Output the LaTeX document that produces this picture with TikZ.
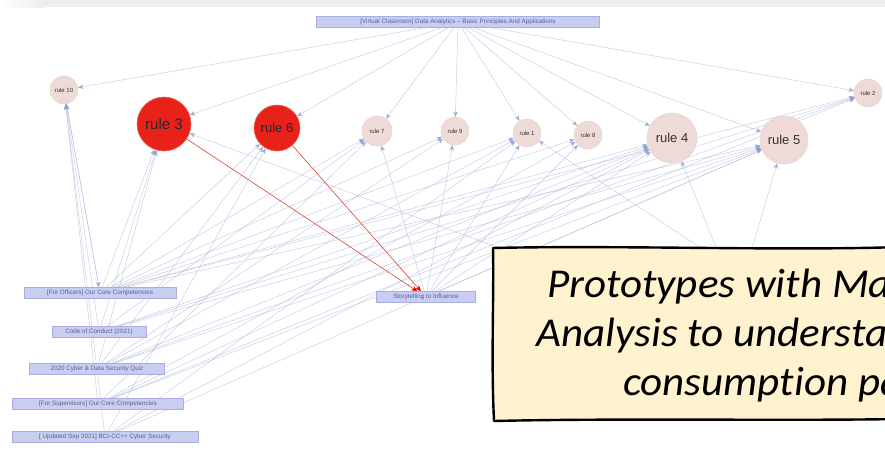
\documentclass[tikz,border=0pt]{standalone}
\usepackage{fontspec}
\setmainfont{Liberation Sans}
\newfontfamily\calloutfont[Ligatures=NoCommon]{Carlito}
\usetikzlibrary{arrows.meta,backgrounds}

\definecolor{edgec}{HTML}{B3BADD}
\definecolor{tipc}{HTML}{8F9AC9}
\definecolor{rulefill}{HTML}{EEDAD7}
\definecolor{ruledraw}{HTML}{E6CFCB}
\definecolor{hotfill}{HTML}{E8211B}
\definecolor{hotdraw}{HTML}{F06A55}
\definecolor{boxfill}{HTML}{CACDF2}
\definecolor{boxdraw}{HTML}{A9ADE2}
\definecolor{boxtext}{HTML}{5B6090}
\definecolor{redge}{HTML}{D8453A}
\definecolor{notefill}{HTML}{FEF2CF}
\definecolor{barc}{HTML}{EDEDED}

\tikzset{
  rulenode/.style={circle, fill=rulefill, draw=ruledraw, line width=0.4pt,
    inner sep=0pt, text=black!80, font=\fontsize{6}{7}\selectfont},
  bignode/.style={rulenode, font=\fontsize{13}{14}\selectfont},
  hotnode/.style={circle, fill=hotfill, draw=hotdraw, line width=0.6pt,
    inner sep=0pt, text=black!85},
  doc/.style={rectangle, fill=boxfill, draw=boxdraw, line width=0.5pt,
    inner sep=0pt, minimum height=11pt, text=boxtext,
    font=\fontsize{6.3}{7}\selectfont},
  link/.style={draw=edgec, line width=0.45pt, opacity=0.75,
    -{Stealth[length=5.5pt,width=4.5pt,color=tipc,fill=tipc]}},
  hotlink/.style={draw=redge, line width=0.6pt,
    -{Stealth[length=6pt,width=5pt,color=red!85!black,fill=red!85!black]}},
  note/.style={fill=notefill, draw=black, line width=2.4pt, line join=round},
  notetext/.style={anchor=base west, inner sep=0pt, xscale=1.05,
    font=\calloutfont\itshape\fontsize{41}{49}\selectfont}
}

\begin{document}
\begin{tikzpicture}[x=1pt, y=-1pt]
\useasboundingbox (0,0) rectangle (885,453);
\clip (0,0) rectangle (885,453);

% toolbar strip along the top edge
\fill[barc] (0,0) rectangle (885,7);
\shade[left color=white, right color=barc] (0,0) rectangle (45,7);

% source document
\node[doc, minimum width=283pt] (top) at (458,22)
  {[Virtual Classroom] Data Analytics -- Basic Principles And Applications};

% rule nodes
\node[rulenode, minimum size=28pt] (r10) at (64,90) {rule 10};
\node[hotnode, minimum size=54pt, font=\fontsize{15}{16}\selectfont] (r3) at (164,124) {rule 3};
\node[hotnode, minimum size=46pt, font=\fontsize{13}{14}\selectfont] (r6) at (277,128) {rule 6};
\node[rulenode, minimum size=30pt] (r7) at (377,131) {rule 7};
\node[rulenode, minimum size=28pt] (r9) at (455,131) {rule 9};
\node[rulenode, minimum size=28pt] (r1) at (527,133) {rule 1};
\node[rulenode, minimum size=28pt] (r8) at (588,135) {rule 8};
\node[bignode, minimum size=50pt] (r4) at (672,138) {rule 4};
\node[bignode, minimum size=48pt] (r5) at (784,140) {rule 5};
\node[rulenode, minimum size=28pt] (r2) at (868,93) {rule 2};

% course documents
\node[doc, minimum width=152pt] (o1) at (100,293) {[For Officers] Our Core Competencies};
\node[doc, minimum width=94pt]  (o2) at (99,332)  {Code of Conduct (2021)};
\node[doc, minimum width=135pt] (o3) at (97,369)  {2020 Cyber \& Data Security Quiz};
\node[doc, minimum width=171pt] (o4) at (98,404)  {[For Supervisors] Our Core Competencies};
\node[doc, minimum width=186pt] (o5) at (105,437) {[ Updated Sep 2021] BCI-CC++ Cyber Security};
\node[doc, minimum width=99pt]  (st) at (426,297) {Storytelling to Influence};

% ends of links that run under the note
\coordinate (h1) at (722,262);
\coordinate (h2) at (748,262);
\coordinate (h3) at (640,300);

\begin{scope}[on background layer]
  \fill[white] (0,7) rectangle (885,453);
  \foreach \r in {r10,r3,r6,r7,r9,r1,r8,r4,r5,r2}
    \draw[link] (top) -- (\r);
  \foreach \r in {r10,r3,r6,r7,r9,r1,r8,r4,r5,r2}
    \draw[link] (o1) -- (\r);
  \foreach \r in {r10,r3,r7,r4,r5,r2}
    \draw[link] (o2) -- (\r);
  \foreach \r in {r3,r6,r9,r1,r4,r5,r2}
    \draw[link] (o3) -- (\r);
  \foreach \r in {r10,r7,r8,r4,r5,r2}
    \draw[link] (o4) -- (\r);
  \foreach \r in {r10,r6,r1,r4,r5}
    \draw[link] (o5) -- (\r);
  \foreach \r in {r7,r9,r1,r8,r4,r5}
    \draw[link] (st) -- (\r);
  \draw[link] (h1) -- (r4);
  \draw[link] (h1) -- (r1);
  \draw[link] (h2) -- (r5);
  \draw[link] (h3) -- (r3);
  \draw[link] (r10) -- (o1);
  \draw[hotlink] (r3) -- (st);
  \draw[hotlink] (r6) -- (st);
\end{scope}

% hand-drawn note, running off the right edge
\path[note] (493,248) .. controls (620,245) and (780,251) .. (900,247)
  -- (900,419) .. controls (780,421) and (620,418) .. (494,421)
  .. controls (491,360) and (494,300) .. cycle;
\node[notetext] (n1) at (547,297) {Prototypes with Ma};
\node[notetext] (n2) at (536,346) {Analysis to understa};
\node[notetext] (n3) at (623,395) {consumpt\kern0pt ion pa};
\end{tikzpicture}
\end{document}
